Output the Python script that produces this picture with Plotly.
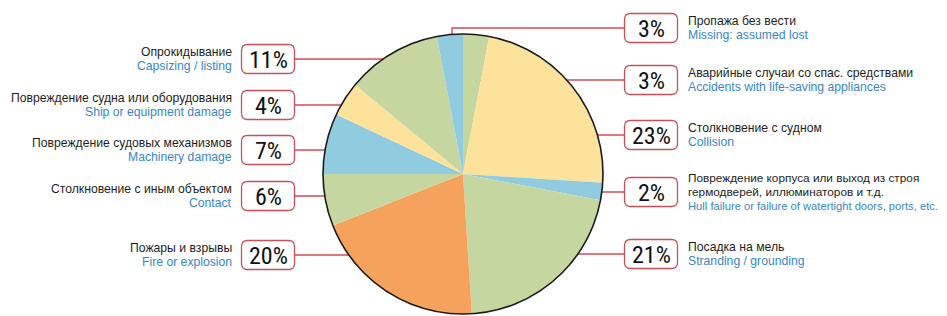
import plotly.graph_objects as go

# ---- data ----
labels_ru = [
    "Аварийные случаи со спас. средствами",
    "Столкновение с судном",
    "Повреждение корпуса или выход из строя<br>гермодверей, иллюминаторов и т.д.",
    "Посадка на мель",
    "Пожары и взрывы",
    "Столкновение с иным объектом",
    "Повреждение судовых механизмов",
    "Повреждение судна или оборудования",
    "Опрокидывание",
    "Пропажа без вести",
]
labels_en = [
    "Accidents with life-saving appliances",
    "Collision",
    "Hull failure or failure of watertight doors, ports, etc.",
    "Stranding / grounding",
    "Fire or explosion",
    "Contact",
    "Machinery damage",
    "Ship or equipment damage",
    "Capsizing / listing",
    "Missing: assumed lost",
]
values = [3, 23, 2, 21, 20, 6, 7, 4, 11, 3]

# ---- styles / layout config ----
W, H = 947, 316
GREEN, YELLOW, BLUE, ORANGE = "#c6d6a0", "#fde29b", "#91cbe0", "#f5a25c"
slice_colors = [GREEN, YELLOW, BLUE, GREEN, ORANGE, GREEN, BLUE, YELLOW, GREEN, BLUE]
CX, CY, R = 463, 174, 140

# label side (L/R), box center y, dot position (pixel), optional elbow
side = ["R", "R", "R", "R", "L", "L", "L", "L", "L", "R"]
box_y = [80, 135, 192, 254, 255, 196, 150, 105, 59, 28]
dot_xy = [(474, 80), (538, 135), (586, 192), (538, 254), (418, 255),
          (359, 196), (359, 150), (359, 105), (418, 59), (452, 60)]
ru_size = [12.2, 12.2, 11.8, 12.2, 12.2, 12.2, 12.2, 12.2, 12.2, 12.2]
en_size = [12.2, 12.2, 11.2, 12.2, 12.2, 12.2, 12.2, 12.2, 12.2, 12.2]
BOX_W, BOX_H, RAD = 53, 29, 6
LBOX_X, RBOX_X = 268, 651
LTEXT_X, RTEXT_X = 234, 686
LINE_RED = "#d24b55"
BOX_RED = "#c8505a"
DOT_RED = "#b80010"
RU_COLOR = "#1e1e1e"
EN_COLOR = "#3a86c8"
FONT = "Liberation Sans, Arial, sans-serif"
PCT_FONT = "Liberation Sans Narrow, Arial Narrow, Roboto Condensed, Liberation Sans, Arial"

fig = go.Figure()

fig.add_trace(go.Pie(
    values=values,
    labels=[e for e in labels_en],
    sort=False,
    direction="clockwise",
    rotation=0,
    textinfo="none",
    hoverinfo="label+percent",
    marker=dict(colors=slice_colors, line=dict(width=0)),
    domain=dict(x=[(CX - R) / W, (CX + R) / W], y=[1 - (CY + R) / H, 1 - (CY - R) / H]),
    showlegend=False,
))

shapes = []
annotations = []

# outer circle
shapes.append(dict(type="circle", xref="x", yref="y",
                   x0=CX - R, x1=CX + R, y0=CY - R, y1=CY + R,
                   line=dict(color="#1a1a1a", width=1.6), layer="above"))


def rounded_rect(cx, cy, w, h, r):
    x0, x1 = cx - w / 2, cx + w / 2
    y0, y1 = cy - h / 2, cy + h / 2
    return (f"M {x0 + r},{y0} L {x1 - r},{y0} Q {x1},{y0} {x1},{y0 + r} "
            f"L {x1},{y1 - r} Q {x1},{y1} {x1 - r},{y1} L {x0 + r},{y1} "
            f"Q {x0},{y1} {x0},{y1 - r} L {x0},{y0 + r} Q {x0},{y0} {x0 + r},{y0} Z")


dot_x, dot_y = [], []
for i, v in enumerate(values):
    by = box_y[i]
    dx, dy = dot_xy[i]
    dot_x.append(dx)
    dot_y.append(dy)
    if side[i] == "L":
        bx = LBOX_X
        edge = bx + BOX_W / 2
        pts_x, pts_y = [edge, dx], [by, by]
    else:
        bx = RBOX_X
        edge = bx - BOX_W / 2
        if dy != by:
            pts_x, pts_y = [dx, dx, edge], [dy, by, by]
        else:
            pts_x, pts_y = [dx, edge], [by, by]
    fig.add_trace(go.Scatter(x=pts_x, y=pts_y, mode="lines",
                             line=dict(color=LINE_RED, width=1.4),
                             hoverinfo="skip", showlegend=False))
    shapes.append(dict(type="path", xref="x", yref="y",
                       path=rounded_rect(bx, by, BOX_W, BOX_H, RAD),
                       line=dict(color=BOX_RED, width=1.3),
                       fillcolor="white", layer="above"))
    annotations.append(dict(x=bx, y=by + 1, xref="x", yref="y", text=f"{v}%",
                            showarrow=False, xanchor="center", yanchor="middle",
                            font=dict(family=PCT_FONT, size=24, color="#111111")))
    ru_lines = labels_ru[i].split("<br>")
    n = len(ru_lines) + 1
    ys = [by + (k - (n - 1) / 2) * 14 for k in range(n)]
    tx = LTEXT_X if side[i] == "L" else RTEXT_X
    anchor = "right" if side[i] == "L" else "left"
    for k, t in enumerate(ru_lines):
        annotations.append(dict(x=tx, y=ys[k], xref="x", yref="y", text=t,
                                showarrow=False, xanchor=anchor, yanchor="middle",
                                font=dict(family=FONT, size=ru_size[i], color=RU_COLOR)))
    annotations.append(dict(x=tx, y=ys[-1], xref="x", yref="y", text=labels_en[i],
                            showarrow=False, xanchor=anchor, yanchor="middle",
                            font=dict(family=FONT, size=en_size[i], color=EN_COLOR)))

fig.add_trace(go.Scatter(x=dot_x, y=dot_y, mode="markers",
                         marker=dict(color=DOT_RED, size=8),
                         hoverinfo="skip", showlegend=False))

fig.update_layout(
    width=W, height=H,
    margin=dict(l=0, r=0, t=0, b=0),
    paper_bgcolor="white", plot_bgcolor="rgba(0,0,0,0)",
    xaxis=dict(range=[0, W], visible=False, fixedrange=True, domain=[0, 1]),
    yaxis=dict(range=[H, 0], visible=False, fixedrange=True, domain=[0, 1]),
    shapes=shapes,
    annotations=annotations,
    font=dict(family=FONT),
)

fig.write_html("out.html",
               config={"displayModeBar": False},
               post_script="document.body.style.margin='0';document.body.style.overflow='hidden';")
